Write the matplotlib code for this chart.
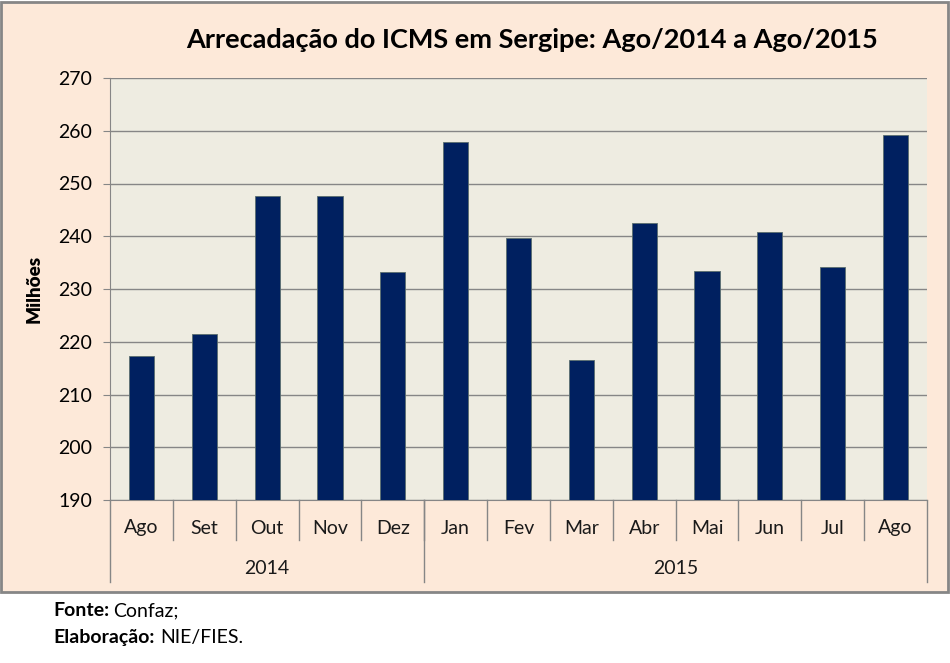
import matplotlib.pyplot as plt
from matplotlib.patches import Rectangle

months = ["Ago", "Set", "Out", "Nov", "Dez", "Jan", "Fev", "Mar", "Abr", "Mai", "Jun", "Jul", "Ago"]
values = [217.3, 221.5, 247.7, 247.7, 233.2, 257.9, 239.6, 216.6, 242.5, 233.5, 240.9, 234.2, 259.2]
years = ["2014", "2015"]
year_counts = [5, 8]
yticks = list(range(190, 271, 10))

plt.rcParams["font.family"] = ["Lato", "DejaVu Sans"]

fig = plt.figure(figsize=(9.5, 6.63), dpi=100)
fig.patch.set_facecolor("white")

# peach chart area with grey border
fig.patches.append(Rectangle((1 / 950, 1 - 592 / 663), 947 / 950, 590 / 663,
                             transform=fig.transFigure, facecolor="#FDE9D9",
                             edgecolor="#868686", linewidth=2, zorder=0))

ax = fig.add_axes([110 / 950, 1 - 500 / 663, 817 / 950, 422 / 663])
ax.set_zorder(2)
ax.set_facecolor("#EEECE1")

x = list(range(len(months)))
ax.bar(x, values, width=0.4, color="#002060", edgecolor="#5a6e6e", linewidth=0.6, zorder=3)
ax.set_xlim(-0.5, len(months) - 0.5)
ax.set_ylim(190, 270)
ax.set_yticks(yticks)
ax.tick_params(axis="y", labelsize=14, length=5, color="#868686", pad=8)
ax.grid(axis="y", color="#868686", linewidth=1, zorder=1)
ax.set_xticks([])
for side in ["top", "right"]:
    ax.spines[side].set_visible(False)
ax.spines["left"].set_color("#868686")
ax.spines["bottom"].set_color("#868686")
ax.set_ylabel("Milhões", fontsize=13.5, fontweight="heavy", labelpad=11)

# two-level category axis
trans = ax.get_xaxis_transform()
px = 1 / 422
for i, m in enumerate(months):
    ax.text(i, -28 * px, m, transform=trans, ha="center", va="center", fontsize=14, color="#1a1a1a")
for b in range(1, len(months)):
    ax.plot([b - 0.5, b - 0.5], [0, -40 * px], transform=trans, color="#868686", lw=1, clip_on=False)
start = 0
bounds = [-0.5]
for yr, n in zip(years, year_counts):
    ax.text(start + (n - 1) / 2, -68 * px, yr, transform=trans, ha="center", va="center", fontsize=14, color="#1a1a1a")
    start += n
    bounds.append(start - 0.5)
for b in bounds:
    ax.plot([b, b], [0, -82 * px], transform=trans, color="#868686", lw=1, clip_on=False)

fig.text(532 / 950, 1 - 40 / 663, "Arrecadação do ICMS em Sergipe: Ago/2014 a Ago/2015",
         ha="center", va="center", fontsize=19.5, fontweight="bold")

fig.text(53 / 950, 1 - 611 / 663, "Fonte:", fontsize=14, fontweight="bold", ha="left", va="center")
fig.text(113 / 950, 1 - 611 / 663, "Confaz;", fontsize=14, ha="left", va="center")
fig.text(53 / 950, 1 - 638 / 663, "Elaboração:", fontsize=14, fontweight="bold", ha="left", va="center")
fig.text(160 / 950, 1 - 638 / 663, "NIE/FIES.", fontsize=14, ha="left", va="center")

fig.savefig("out.png", dpi=100)
